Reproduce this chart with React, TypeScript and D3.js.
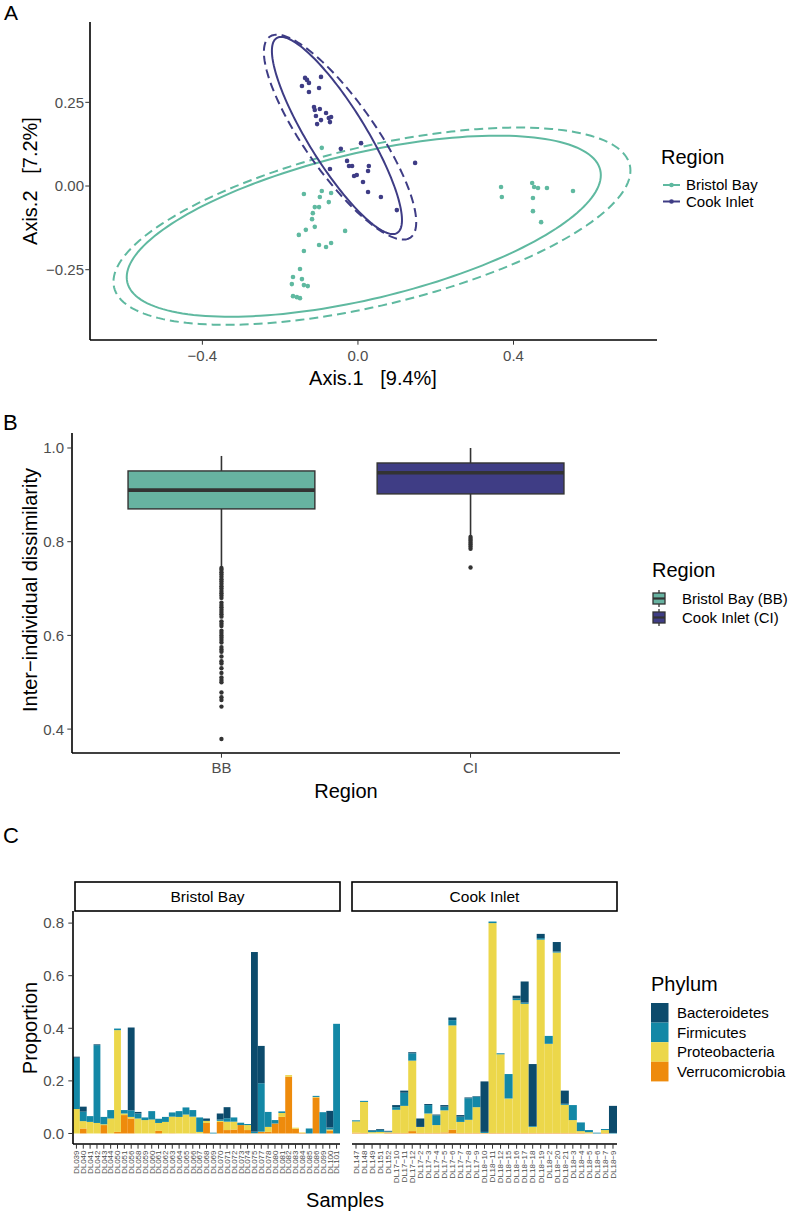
import * as d3 from "d3";

// ---------- panel A : ordination ----------
const regionsA = ["Bristol Bay", "Cook Inlet"];
const regionColors = ["#5FB9A0", "#3E3C85"];

// Bristol Bay points [Axis.1, Axis.2]
const bbPoints = [
  [-0.093, 0.114], [-0.139, -0.024], [-0.093, -0.015], [-0.069, -0.021], [-0.098, -0.033],
  [-0.075, -0.048], [-0.111, -0.063], [-0.100, -0.063], [-0.116, -0.081], [-0.118, -0.099],
  [-0.111, -0.122], [-0.033, -0.134], [-0.134, -0.131], [-0.152, -0.146], [-0.139, -0.194],
  [-0.100, -0.176], [-0.082, -0.182], [-0.069, -0.170], [-0.149, -0.248], [-0.167, -0.272],
  [-0.144, -0.278], [-0.170, -0.293], [-0.139, -0.296], [-0.129, -0.299], [-0.167, -0.329],
  [-0.157, -0.332], [-0.149, -0.335], [0.368, -0.003], [0.370, -0.033], [0.448, 0.009],
  [0.453, -0.003], [0.463, -0.006], [0.486, -0.006], [0.553, -0.015], [0.450, -0.036],
  [0.450, -0.075], [0.471, -0.108],
];
// Cook Inlet points
const ciPoints = [
  [-0.144, 0.299], [-0.136, 0.323], [-0.131, 0.317], [-0.126, 0.308], [-0.095, 0.326],
  [-0.100, 0.293], [-0.126, 0.281], [-0.113, 0.236], [-0.111, 0.227], [-0.098, 0.230],
  [-0.108, 0.209], [-0.105, 0.185], [-0.095, 0.197], [-0.082, 0.218], [-0.075, 0.203],
  [-0.069, 0.206], [-0.072, 0.191], [-0.044, 0.111], [0.008, 0.128], [-0.028, 0.075],
  [-0.023, 0.060], [-0.010, 0.030], [-0.003, 0.033], [0.026, 0.045], [0.028, 0.060],
  [0.013, 0.012], [0.026, -0.018], [0.059, -0.033], [0.100, -0.072], [0.147, 0.069],
  [-0.072, 0.051], [-0.015, 0.060],
];
// ellipses: centre, two conjugate half-axes (data units), region index, dashed?
const ellipses = [
  { region: 0, dashed: false, c: [0.015, -0.12], u: [0.608, 0.168], v: [0.0435, -0.212] },
  { region: 0, dashed: true, c: [0.036, -0.12], u: [0.663, 0.183], v: [0.0474, -0.231] },
  { region: 1, dashed: false, c: [-0.054, 0.151], u: [0.155, -0.291], v: [-0.0628, -0.0451] },
  { region: 1, dashed: true, c: [-0.046, 0.146], u: [0.181, -0.3], v: [-0.0748, -0.0609] },
];
const xTicksA = [-0.4, 0, 0.4];
const yTicksA = [-0.25, 0, 0.25];

// ---------- panel B : boxplots ----------
const regionsB = ["BB", "CI"];
const regionLabelsB = ["Bristol Bay (BB)", "Cook Inlet (CI)"];
const boxFills = ["#67B3A1", "#3F3D85"];
const boxStats = [
  { lower: 0.748, q1: 0.870, median: 0.910, q3: 0.951, upper: 0.983 },
  { lower: 0.814, q1: 0.902, median: 0.947, q3: 0.968, upper: 1.0 },
];
const bbOutliers = [
  0.744, 0.74, 0.735, 0.73, 0.725, 0.72, 0.715, 0.71, 0.705, 0.70, 0.695, 0.69, 0.685, 0.68,
  0.67, 0.665, 0.66, 0.655, 0.65, 0.645, 0.64, 0.63, 0.625, 0.62, 0.61, 0.605, 0.60, 0.595,
  0.59, 0.585, 0.575, 0.57, 0.565, 0.555, 0.545, 0.54, 0.53, 0.52, 0.51, 0.505, 0.50, 0.478,
  0.468, 0.462, 0.448, 0.379,
];
const ciOutliers = [0.81, 0.806, 0.802, 0.798, 0.794, 0.79, 0.785, 0.745];
const yTicksB = [0.4, 0.6, 0.8, 1.0];

// ---------- panel C : phylum bars ----------
const phyla = ["Bacteroidetes", "Firmicutes", "Proteobacteria", "Verrucomicrobia"];
const phylumColors = ["#0C4B6C", "#1388A6", "#ECD74A", "#EE8B0C"];
const bbSamples = [
  "DL039", "DL040", "DL041", "DL042", "DL043", "DL044", "DL050", "DL051", "DL056", "DL058",
  "DL059", "DL060", "DL061", "DL062", "DL063", "DL064", "DL065", "DL066", "DL067", "DL068",
  "DL069", "DL070", "DL071", "DL072", "DL073", "DL074", "DL075", "DL077", "DL078", "DL080",
  "DL081", "DL082", "DL083", "DL084", "DL085", "DL086", "DL099", "DL100", "DL101",
];
const bbBacteroidetes = [0.004, 0.019, 0, 0.003, 0, 0, 0, 0, 0.315, 0.006, 0, 0, 0, 0, 0, 0, 0, 0, 0, 0.009, 0, 0.023, 0.042, 0, 0, 0, 0.683, 0.142, 0, 0, 0, 0, 0, 0, 0, 0, 0, 0.063, 0];
const bbFirmicutes = [0.195, 0.036, 0.022, 0.296, 0.028, 0.032, 0.006, 0.013, 0.025, 0.019, 0.01, 0.032, 0.016, 0.019, 0.016, 0.022, 0.027, 0.025, 0.055, 0, 0.003, 0.005, 0.013, 0.016, 0.009, 0.004, 0.006, 0.184, 0.057, 0.013, 0.006, 0, 0, 0, 0.019, 0.004, 0.081, 0.008, 0.417];
const bbProteobacteria = [0.093, 0.028, 0.044, 0.04, 0.003, 0.057, 0.387, 0.006, 0.006, 0.057, 0.051, 0.053, 0.03, 0.044, 0.063, 0.063, 0.072, 0.063, 0.006, 0.008, 0, 0.004, 0.032, 0.03, 0, 0.019, 0, 0.001, 0.019, 0, 0.015, 0.006, 0.004, 0.002, 0, 0.002, 0, 0.004, 0];
const bbVerrucomicrobia = [0, 0.019, 0, 0, 0.032, 0, 0.006, 0.07, 0.057, 0, 0, 0, 0.01, 0, 0.001, 0, 0, 0.001, 0, 0.04, 0, 0.044, 0.013, 0.015, 0.032, 0.013, 0.001, 0.006, 0.006, 0.038, 0.063, 0.216, 0.018, 0.002, 0, 0.137, 0, 0.011, 0];

const ciSamples = [
  "DL147", "DL148", "DL149", "DL151", "DL152", "DL17\u221210", "DL17\u221211", "DL17\u221212", "DL17\u22122",
  "DL17\u22123", "DL17\u22124", "DL17\u22125", "DL17\u22126", "DL17\u22127", "DL17\u22128", "DL17\u22129",
  "DL18\u221210", "DL18\u221211", "DL18\u221212", "DL18\u221215", "DL18\u221216", "DL18\u221217",
  "DL18\u221218", "DL18\u221219", "DL18\u22122", "DL18\u221220", "DL18\u221221", "DL18\u22123",
  "DL18\u22124", "DL18\u22125", "DL18\u22126", "DL18\u22127", "DL18\u22129",
];
const ciBacteroidetes = [0, 0, 0.002, 0.003, 0.002, 0.008, 0.008, 0.004, 0.032, 0.004, 0.003, 0.006, 0.01, 0.006, 0.003, 0.002, 0.192, 0, 0, 0, 0.011, 0.08, 0.236, 0.016, 0, 0.036, 0.05, 0, 0, 0, 0, 0, 0.103];
const ciFirmicutes = [0.004, 0.004, 0.006, 0.008, 0.003, 0.01, 0.05, 0.028, 0, 0.032, 0.037, 0.014, 0.02, 0.02, 0.082, 0.04, 0.004, 0.006, 0.004, 0.093, 0.006, 0.005, 0.003, 0.006, 0.03, 0.004, 0.004, 0.057, 0.033, 0.008, 0.003, 0.004, 0.002];
const ciProteobacteria = [0.043, 0.118, 0.005, 0.006, 0.002, 0.088, 0.103, 0.268, 0.023, 0.074, 0.03, 0.084, 0.396, 0.042, 0.05, 0.098, 0, 0.798, 0.299, 0.131, 0.505, 0.491, 0.023, 0.735, 0.339, 0.686, 0.107, 0.049, 0.006, 0.004, 0, 0.011, 0];
const ciVerrucomicrobia = [0.003, 0.002, 0, 0, 0.003, 0.002, 0.002, 0.009, 0.002, 0.002, 0.002, 0.004, 0.015, 0.002, 0.002, 0.002, 0.002, 0.002, 0.002, 0.002, 0.002, 0.002, 0.002, 0.002, 0.002, 0.002, 0.002, 0.002, 0.003, 0.001, 0, 0.002, 0];
const yTicksC = [0, 0.2, 0.4, 0.6, 0.8];

const FONT = "Liberation Sans, Arial, Helvetica, sans-serif";
const TICK = "#4D4D4D";
const TICK_FS = 15;
const TITLE_FS = 20;
const LEG_FS = 15;
const TL = 4.7; // tick length

function fmt(v: number, digits: number) {
  return v.toFixed(digits).replace("-", "\u2212");
}

function buildRows(samples: string[], b: number[], f: number[], p: number[], v: number[]) {
  return samples.map((s, i) => ({
    sample: s,
    Bacteroidetes: b[i],
    Firmicutes: f[i],
    Proteobacteria: p[i],
    Verrucomicrobia: v[i],
  }));
}

function BarPanel({ rows, samples, x0, x1, y }: any) {
  const x = d3.scaleBand().domain(samples).range([x0, x1]).padding(0);
  const stack = d3.stack<any>().keys([...phyla].reverse());
  const series = stack(rows);
  return (
    <g>
      {series.map((s) => {
        const ci = phyla.indexOf(s.key);
        return (
          <g key={s.key} fill={phylumColors[ci]}>
            {s.map((d, i) => (
              <rect
                key={i}
                x={x(samples[i])}
                width={x.bandwidth()}
                y={y(d[1])}
                height={Math.max(0, y(d[0]) - y(d[1]))}
              />
            ))}
          </g>
        );
      })}
      <line x1={x0} x2={x1} y1={1144} y2={1144} stroke="#000" strokeWidth={1.6} />
      {samples.map((s: string) => {
        const cx = (x(s) as number) + x.bandwidth() / 2;
        return (
          <g key={s}>
            <line x1={cx} x2={cx} y1={1144} y2={1144 + TL} stroke="#333" strokeWidth={1} />
            <text
              transform={`translate(${cx + 2.8},1150.5) rotate(-90)`}
              textAnchor="end"
              fontSize={8}
              fill={TICK}
            >
              {s}
            </text>
          </g>
        );
      })}
    </g>
  );
}

export default function App() {
  // panel A scales
  const xA = d3.scaleLinear().domain([-0.689, 0.769]).range([90, 657]);
  const yA = d3.scaleLinear().domain([-0.46, 0.49]).range([340, 22]);
  const ellPath = (e: any) => {
    const ts = d3.range(0, Math.PI * 2, Math.PI / 90);
    return d3
      .line<number>()
      .x((t) => xA(e.c[0] + e.u[0] * Math.cos(t) + e.v[0] * Math.sin(t)))
      .y((t) => yA(e.c[1] + e.u[1] * Math.cos(t) + e.v[1] * Math.sin(t)))
      .curve(d3.curveLinearClosed)(ts) as string;
  };

  // panel B scales
  const xB = d3.scalePoint().domain(regionsB).range([72, 620]).padding(0.6);
  const yB = d3.scaleLinear().domain([0.349, 1.032]).range([753, 433]);
  const boxW = xB.step() * 0.75;
  const outliers = [bbOutliers, ciOutliers];

  // panel C scales
  const yC = d3.scaleLinear().domain([-0.04, 0.846]).range([1144, 911]);
  const bbRows = buildRows(bbSamples, bbBacteroidetes, bbFirmicutes, bbProteobacteria, bbVerrucomicrobia);
  const ciRows = buildRows(ciSamples, ciBacteroidetes, ciFirmicutes, ciProteobacteria, ciVerrucomicrobia);

  return (
    <svg
      width={794}
      height={1215}
      style={{ position: "absolute", left: 0, top: 0, background: "#fff" }}
      fontFamily={FONT}
    >
      {/* ================= A ================= */}
      <text x={4} y={20} fontSize={21}>A</text>
      {ellipses.map((e, i) => (
        <path
          key={i}
          d={ellPath(e)}
          fill="none"
          stroke={regionColors[e.region]}
          strokeWidth={2}
          strokeDasharray={e.dashed ? "9,5" : undefined}
        />
      ))}
      {[bbPoints, ciPoints].map((pts, r) =>
        pts.map((p, i) => (
          <circle key={`${r}-${i}`} cx={xA(p[0])} cy={yA(p[1])} r={2.3} fill={regionColors[r]} />
        ))
      )}
      <line x1={90} x2={90} y1={22} y2={340} stroke="#000" strokeWidth={1.6} />
      <line x1={90} x2={657} y1={340} y2={340} stroke="#000" strokeWidth={1.6} />
      {yTicksA.map((t) => (
        <g key={t}>
          <line x1={90 - TL} x2={90} y1={yA(t)} y2={yA(t)} stroke="#333" />
          <text x={84} y={yA(t)} dy="0.36em" textAnchor="end" fontSize={TICK_FS} fill={TICK}>
            {fmt(t, 2)}
          </text>
        </g>
      ))}
      {xTicksA.map((t) => (
        <g key={t}>
          <line x1={xA(t)} x2={xA(t)} y1={340} y2={340 + TL} stroke="#333" />
          <text x={xA(t)} y={361} textAnchor="middle" fontSize={TICK_FS} fill={TICK}>
            {fmt(t, 1)}
          </text>
        </g>
      ))}
      <text x={373} y={385} textAnchor="middle" fontSize={TITLE_FS} style={{ whiteSpace: "pre" }}>
        {"Axis.1   [9.4%]"}
      </text>
      <text
        transform="translate(37,181) rotate(-90)"
        textAnchor="middle"
        fontSize={TITLE_FS}
        style={{ whiteSpace: "pre" }}
      >
        {"Axis.2   [7.2%]"}
      </text>
      <text x={661} y={164} fontSize={TITLE_FS}>Region</text>
      {regionsA.map((r, i) => (
        <g key={r}>
          <line x1={663} x2={680} y1={185 + i * 16.5} y2={185 + i * 16.5} stroke={regionColors[i]} strokeWidth={2} />
          <circle cx={671.5} cy={185 + i * 16.5} r={2.3} fill={regionColors[i]} />
          <text x={686} y={185 + i * 16.5} dy="0.36em" fontSize={LEG_FS}>{r}</text>
        </g>
      ))}

      {/* ================= B ================= */}
      <text x={3} y={430} fontSize={22}>B</text>
      {boxStats.map((b, i) => {
        const cx = xB(regionsB[i]) as number;
        return (
          <g key={i} stroke="#333">
            <line x1={cx} x2={cx} y1={yB(b.upper)} y2={yB(b.q3)} strokeWidth={1.6} />
            <line x1={cx} x2={cx} y1={yB(b.q1)} y2={yB(b.lower)} strokeWidth={1.6} />
            <rect
              x={cx - boxW / 2}
              width={boxW}
              y={yB(b.q3)}
              height={yB(b.q1) - yB(b.q3)}
              fill={boxFills[i]}
              strokeWidth={1.4}
            />
            <line x1={cx - boxW / 2} x2={cx + boxW / 2} y1={yB(b.median)} y2={yB(b.median)} strokeWidth={3.6} />
            {outliers[i].map((o, j) => (
              <circle key={j} cx={cx} cy={yB(o)} r={2.2} fill="#333" stroke="none" />
            ))}
          </g>
        );
      })}
      <line x1={72} x2={72} y1={433} y2={753} stroke="#000" strokeWidth={1.6} />
      <line x1={72} x2={620} y1={753} y2={753} stroke="#000" strokeWidth={1.6} />
      {yTicksB.map((t) => (
        <g key={t}>
          <line x1={72 - TL} x2={72} y1={yB(t)} y2={yB(t)} stroke="#333" />
          <text x={64} y={yB(t)} dy="0.36em" textAnchor="end" fontSize={TICK_FS} fill={TICK}>
            {fmt(t, 1)}
          </text>
        </g>
      ))}
      {regionsB.map((r) => (
        <g key={r}>
          <line x1={xB(r)} x2={xB(r)} y1={753} y2={753 + TL} stroke="#333" />
          <text x={xB(r)} y={773} textAnchor="middle" fontSize={TICK_FS} fill={TICK}>{r}</text>
        </g>
      ))}
      <text x={346} y={798} textAnchor="middle" fontSize={TITLE_FS}>Region</text>
      <text transform="translate(37,590) rotate(-90)" textAnchor="middle" fontSize={TITLE_FS}>
        {"Inter\u2212individual dissimilarity"}
      </text>
      <text x={652} y={577} fontSize={TITLE_FS}>Region</text>
      {regionLabelsB.map((r, i) => {
        const cy = 598.5 + i * 19;
        return (
          <g key={r}>
            <line x1={659} x2={659} y1={cy - 8.5} y2={cy + 8.5} stroke="#333" strokeWidth={1.3} />
            <rect x={653} y={cy - 5.5} width={12} height={11} fill={boxFills[i]} stroke="#333" strokeWidth={1.3} />
            <line x1={653} x2={665} y1={cy} y2={cy} stroke="#333" strokeWidth={2.2} />
            <text x={682} y={cy} dy="0.36em" fontSize={LEG_FS}>{r}</text>
          </g>
        );
      })}

      {/* ================= C ================= */}
      <text x={3} y={843} fontSize={22}>C</text>
      <BarPanel rows={bbRows} samples={bbSamples} x0={73} x1={340} y={yC} />
      <BarPanel rows={ciRows} samples={ciSamples} x0={352} x1={617} y={yC} />
      <line x1={73} x2={73} y1={911} y2={1144} stroke="#000" strokeWidth={1.6} />
      {yTicksC.map((t) => (
        <g key={t}>
          <line x1={73 - TL} x2={73} y1={yC(t)} y2={yC(t)} stroke="#333" />
          <text x={64} y={yC(t)} dy="0.36em" textAnchor="end" fontSize={TICK_FS} fill={TICK}>
            {fmt(t, 1)}
          </text>
        </g>
      ))}
      {[
        { label: "Bristol Bay", x0: 75, x1: 340 },
        { label: "Cook Inlet", x0: 352, x1: 617 },
      ].map((s) => (
        <g key={s.label}>
          <rect x={s.x0} y={882} width={s.x1 - s.x0} height={29} fill="#fff" stroke="#000" strokeWidth={1.6} />
          <text x={(s.x0 + s.x1) / 2} y={902} textAnchor="middle" fontSize={15.5}>
            {s.label}
          </text>
        </g>
      ))}
      <text x={345} y={1207} textAnchor="middle" fontSize={TITLE_FS}>Samples</text>
      <text transform="translate(37,1028) rotate(-90)" textAnchor="middle" fontSize={TITLE_FS}>
        Proportion
      </text>
      <text x={651} y={991} fontSize={TITLE_FS}>Phylum</text>
      {phyla.map((p, i) => (
        <g key={p}>
          <rect x={651} y={1003 + i * 19.6} width={17.5} height={19.6} fill={phylumColors[i]} />
          <text x={677} y={1003 + i * 19.6 + 9.8} dy="0.36em" fontSize={LEG_FS}>{p}</text>
        </g>
      ))}
    </svg>
  );
}
